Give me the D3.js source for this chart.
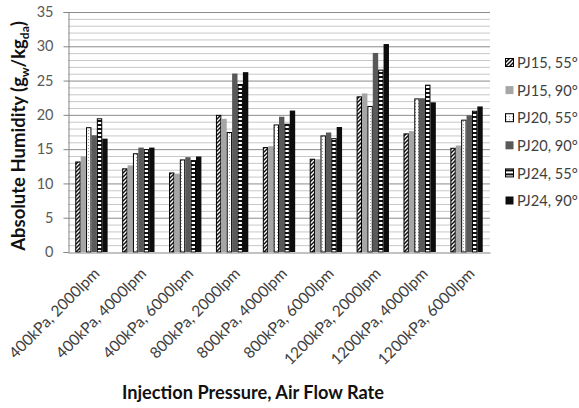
<!DOCTYPE html>
<html>
<head>
<meta charset="utf-8">
<script src="https://cdn.jsdelivr.net/npm/d3@7"></script>
<style>
  body { margin: 0; background: #fff; }
  svg { display: block; font-family: Lato, "Open Sans", sans-serif; }
</style>
</head>
<body>
<div id="chart"></div>
<script>
const categories = ["400kPa, 2000lpm", "400kPa, 4000lpm", "400kPa, 6000lpm",
  "800kPa, 2000lpm", "800kPa, 4000lpm", "800kPa, 6000lpm",
  "1200kPa, 2000lpm", "1200kPa, 4000lpm", "1200kPa, 6000lpm"];
const seriesNames = ["PJ15, 55°", "PJ15, 90°", "PJ20, 55°", "PJ20, 90°", "PJ24, 55°", "PJ24, 90°"];
const pj15_55 = [13.2, 12.2, 11.6, 20.0, 15.3, 13.6, 22.7, 17.3, 15.2];
const pj15_90 = [14.0, 12.7, 11.5, 19.5, 15.5, 13.6, 23.2, 17.7, 15.6];
const pj20_55 = [18.2, 14.4, 13.5, 17.5, 18.6, 17.0, 21.3, 22.4, 19.3];
const pj20_90 = [17.1, 15.3, 13.9, 26.1, 19.8, 17.5, 29.1, 22.5, 20.0];
const pj24_55 = [19.5, 15.0, 13.4, 24.5, 18.7, 16.6, 26.6, 24.4, 20.6];
const pj24_90 = [16.6, 15.3, 14.0, 26.3, 20.7, 18.3, 30.4, 21.9, 21.3];
const yTicks = [0, 5, 10, 15, 20, 25, 30, 35];

const series = [pj15_55, pj15_90, pj20_55, pj20_90, pj24_55, pj24_90];
const fills = ["url(#diag)", "#a6a6a6", "url(#dots)", "#595959", "url(#hstripe)", "#0d0d0d"];
const strokes = ["#000", "none", "#000", "none", "#000", "none"];

const width = 579, height = 408;
const margin = { left: 68, right: 89, top: 12, bottom: 156 };

const svg = d3.select("#chart").append("svg")
  .attr("width", width)
  .attr("height", height);

const defs = svg.append("defs");
const diag = defs.append("pattern").attr("id", "diag")
  .attr("patternUnits", "userSpaceOnUse").attr("width", 4).attr("height", 4);
diag.append("rect").attr("width", 4).attr("height", 4).attr("fill", "#fff");
diag.append("path").attr("d", "M-1,1 l2,-2 M0,4 l4,-4 M3,5 l2,-2")
  .attr("stroke", "#111").attr("stroke-width", 1.5);
const dots = defs.append("pattern").attr("id", "dots")
  .attr("patternUnits", "userSpaceOnUse").attr("width", 3).attr("height", 3);
dots.append("rect").attr("width", 3).attr("height", 3).attr("fill", "#fff");
dots.append("rect").attr("x", 1).attr("y", 1).attr("width", 1).attr("height", 1).attr("fill", "#9a9a9a");
const hstripe = defs.append("pattern").attr("id", "hstripe")
  .attr("patternUnits", "userSpaceOnUse").attr("width", 4).attr("height", 4);
hstripe.append("rect").attr("width", 4).attr("height", 4).attr("fill", "#fff");
hstripe.append("rect").attr("width", 4).attr("height", 2).attr("fill", "#111");

const x = d3.scaleBand()
  .domain(categories)
  .range([margin.left, width - margin.right])
  .paddingInner(0.31)
  .paddingOuter(0.155);
const xs = d3.scaleBand()
  .domain(d3.range(series.length))
  .range([0, x.bandwidth()]);
const y = d3.scaleLinear()
  .domain([0, 35])
  .range([height - margin.bottom, margin.top]);

// minor and major grid
svg.append("g")
  .selectAll("line")
  .data(d3.range(1, 36).filter(v => v % 5 !== 0))
  .join("line")
  .attr("x1", margin.left).attr("x2", width - margin.right)
  .attr("y1", d => y(d) + 0.5).attr("y2", d => y(d) + 0.5)
  .attr("stroke", "#c8c8c8");
svg.append("g")
  .selectAll("line")
  .data(yTicks.slice(1))
  .join("line")
  .attr("x1", margin.left).attr("x2", width - margin.right)
  .attr("y1", d => y(d) + 0.5).attr("y2", d => y(d) + 0.5)
  .attr("stroke", "#8c8c8c");

// bars
svg.append("g")
  .selectAll("g")
  .data(series)
  .join("g")
  .attr("fill", (d, i) => fills[i])
  .attr("stroke", (d, i) => strokes[i])
  .each(function(vals, si) {
    d3.select(this).selectAll("rect")
      .data(vals)
      .join("rect")
      .attr("x", (d, ci) => x(categories[ci]) + xs(si) + (strokes[si] === "none" ? 0 : 0.5))
      .attr("y", d => y(d) + 0.5)
      .attr("width", xs.bandwidth() - (strokes[si] === "none" ? 0 : 1))
      .attr("height", d => y(0) - y(d) - 0.5);
  });

// axes
const yAxis = svg.append("g")
  .attr("transform", `translate(${margin.left + 0.5},0)`)
  .call(d3.axisLeft(y).tickValues(yTicks).tickSize(5).tickPadding(10));
yAxis.select(".domain").attr("stroke", "#868686");
yAxis.selectAll(".tick line").attr("stroke", "#868686");
yAxis.selectAll(".tick text")
  .attr("fill", "#595959").attr("font-size", 14.5)
  .attr("font-family", "Lato, sans-serif");

const xAxis = svg.append("g")
  .attr("transform", `translate(0,${y(0) + 0.5})`)
  .call(d3.axisBottom(x).tickSize(0).tickPadding(0));
xAxis.select(".domain").attr("stroke", "#868686");
xAxis.selectAll(".tick text")
  .attr("fill", "#404040").attr("font-size", 15.5)
  .attr("font-family", "Lato, sans-serif")
  .attr("text-anchor", "end")
  .attr("dy", null)
  .attr("transform", "translate(9,22) rotate(-45)");

// axis titles
svg.append("text")
  .attr("transform", `translate(25,${(y(0) + y(35)) / 2 + 4}) rotate(-90)`)
  .attr("text-anchor", "middle")
  .attr("font-size", 18.5).attr("font-weight", "bold").attr("fill", "#111")
  .call(t => {
    t.append("tspan").text("Absolute Humidity (g");
    t.append("tspan").attr("font-size", 12).attr("dy", 4).text("w");
    t.append("tspan").attr("dy", -4).text("/kg");
    t.append("tspan").attr("font-size", 12).attr("dy", 4).text("da");
    t.append("tspan").attr("dy", -4).text(")");
  });
svg.append("text")
  .attr("x", 253).attr("y", 399)
  .attr("text-anchor", "middle")
  .attr("font-size", 18.2).attr("font-weight", "bold").attr("fill", "#111")
  .text("Injection Pressure, Air Flow Rate");

// legend
const legend = svg.append("g")
  .selectAll("g")
  .data(seriesNames)
  .join("g")
  .attr("transform", (d, i) => `translate(505,${63 + i * 27.6})`);
legend.append("rect")
  .attr("x", 0.5).attr("y", -4.5).attr("width", 8).attr("height", 8)
  .attr("fill", (d, i) => fills[i])
  .attr("stroke", (d, i) => strokes[i]);
legend.append("text")
  .attr("x", 12).attr("dy", "0.35em")
  .attr("font-size", 14.6).attr("fill", "#404040")
  .text(d => d);
</script>
</body>
</html>
